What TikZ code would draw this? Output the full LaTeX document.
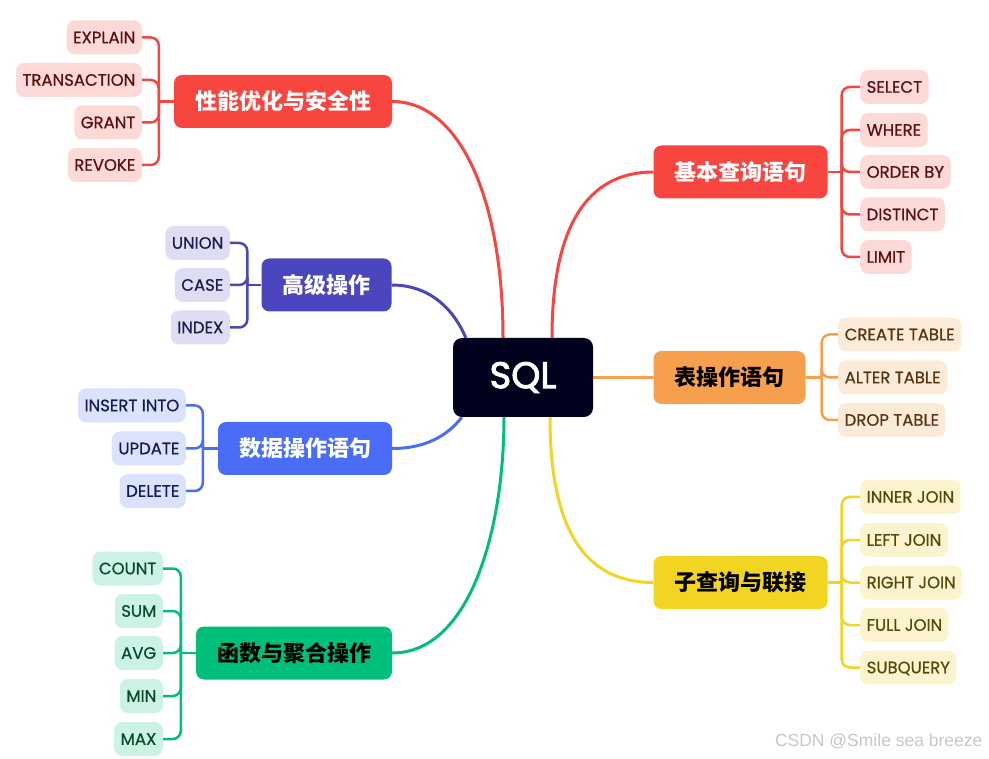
\documentclass[tikz,border=0pt]{standalone}
\usepackage{fontspec}
\setmainfont{Poppins}[FakeBold=0.6]
\newfontfamily\sqlfont{Poppins}[FakeBold=2.5]
\newfontfamily\cjk{Noto Sans CJK SC}
\newfontfamily\wmfont{Liberation Sans}
\usetikzlibrary{backgrounds}
\definecolor{cRed}{HTML}{F8453F}
\definecolor{cRedL}{HTML}{FDD9D7}
\definecolor{cRedT}{HTML}{5C0F0F}
\definecolor{cInd}{HTML}{4B46BE}
\definecolor{cIndL}{HTML}{DEDDF3}
\definecolor{cIndT}{HTML}{1E1C4F}
\definecolor{cBlue}{HTML}{4A6CF7}
\definecolor{cBlueL}{HTML}{DAE2FD}
\definecolor{cBlueT}{HTML}{0E1D5A}
\definecolor{cGreen}{HTML}{00BF7A}
\definecolor{cGreenL}{HTML}{CCF2E3}
\definecolor{cGreenT}{HTML}{064A30}
\definecolor{cOr}{HTML}{F6A04D}
\definecolor{cOrL}{HTML}{FDEBD9}
\definecolor{cOrT}{HTML}{5A3410}
\definecolor{cYel}{HTML}{F2D422}
\definecolor{cYelL}{HTML}{FCF4CF}
\definecolor{cYelT}{HTML}{564808}
\definecolor{cSql}{HTML}{02021E}
\tikzset{
  mainbox/.style={rounded corners=8pt, minimum height=53pt, inner xsep=21pt, inner ysep=0pt,
    font=\cjk\bfseries\fontsize{22}{22}\selectfont, text height=19pt, text depth=2.2pt},
  leafbox/.style={rounded corners=8pt, minimum height=34pt, inner xsep=6.5pt, inner ysep=0pt,
    font=\fontsize{16.5}{16.5}\selectfont, text height=11.5pt, text depth=0pt},
  conn/.style={line width=3pt},
  brk/.style={line width=2.5pt, rounded corners=8pt},
}
\begin{document}
\begin{tikzpicture}[x=1pt,y=-1pt]
\useasboundingbox (0,0) rectangle (989,759);
% central
\node[fill=cSql, text=white, rounded corners=9pt, minimum width=140pt, minimum height=79pt,
  font=\sqlfont\fontsize{37}{37}\selectfont] (sql) at (523,377.5) {SQL};
% main branches
\node[mainbox, fill=cRed, text=white] (perf) at (283,101.5) {性能优化与安全性};
\node[mainbox, fill=cInd, text=white] (adv) at (326.5,285) {高级操作};
\node[mainbox, fill=cBlue, text=white] (dml) at (305,448.5) {数据操作语句};
\node[mainbox, fill=cGreen, text=black] (func) at (294,653) {函数与聚合操作};
\node[mainbox, fill=cRed, text=white] (basic) at (740.5,172) {基本查询语句};
\node[mainbox, fill=cOr, text=black] (tbl) at (729.5,377.5) {表操作语句};
\node[mainbox, fill=cYel, text=black] (join) at (740.5,582.5) {子查询与联接};
% leaves left
\begin{scope}[every node/.append style={leafbox, anchor=east}]
\node[fill=cRedL, text=cRedT] (p1) at (142,37.5) {EXPLAIN};
\node[fill=cRedL, text=cRedT] (p2) at (142,80) {TRANSACTION};
\node[fill=cRedL, text=cRedT] (p3) at (142,122.5) {GRANT};
\node[fill=cRedL, text=cRedT] (p4) at (142,165) {REVOKE};
\node[fill=cIndL, text=cIndT] (a1) at (230,243) {UNION};
\node[fill=cIndL, text=cIndT] (a2) at (230,285) {CASE};
\node[fill=cIndL, text=cIndT] (a3) at (230,327.5) {INDEX};
\node[fill=cBlueL, text=cBlueT] (d1) at (186,405.5) {INSERT INTO};
\node[fill=cBlueL, text=cBlueT] (d2) at (186,448.5) {UPDATE};
\node[fill=cBlueL, text=cBlueT] (d3) at (186,491) {DELETE};
\node[fill=cGreenL, text=cGreenT] (f1) at (163,568.5) {COUNT};
\node[fill=cGreenL, text=cGreenT] (f2) at (163,611) {SUM};
\node[fill=cGreenL, text=cGreenT] (f3) at (163,653) {AVG};
\node[fill=cGreenL, text=cGreenT] (f4) at (163,696) {MIN};
\node[fill=cGreenL, text=cGreenT] (f5) at (163,739) {MAX};
\end{scope}
% leaves right
\begin{scope}[every node/.append style={leafbox, anchor=west}]
\node[fill=cRedL, text=cRedT] (b1) at (860,87) {SELECT};
\node[fill=cRedL, text=cRedT] (b2) at (860,130) {WHERE};
\node[fill=cRedL, text=cRedT] (b3) at (860,172) {ORDER BY};
\node[fill=cRedL, text=cRedT] (b4) at (860,214.5) {DISTINCT};
\node[fill=cRedL, text=cRedT] (b5) at (860,257) {LIMIT};
\node[fill=cOrL, text=cOrT] (t1) at (838,334.5) {CREATE TABLE};
\node[fill=cOrL, text=cOrT] (t2) at (838,377.5) {ALTER TABLE};
\node[fill=cOrL, text=cOrT] (t3) at (838,420) {DROP TABLE};
\node[fill=cYelL, text=cYelT] (j1) at (860,497) {INNER JOIN};
\node[fill=cYelL, text=cYelT] (j2) at (860,540) {LEFT JOIN};
\node[fill=cYelL, text=cYelT] (j3) at (860,582.5) {RIGHT JOIN};
\node[fill=cYelL, text=cYelT] (j4) at (860,625) {FULL JOIN};
\node[fill=cYelL, text=cYelT] (j5) at (860,667.5) {SUBQUERY};
\end{scope}
\node[anchor=east, text=black!22, font=\wmfont\fontsize{17.5}{17.5}\selectfont] (wm) at (986,741) {CSDN @Smile sea breeze};
\begin{pgfonlayer}{background}
% main connectors
\draw[conn, cRed] ([xshift=-20pt]sql.north) .. controls ([xshift=-20pt]sql.north |- 0,200) and (460,101.5) .. (perf.east);
\draw[conn, cInd] ([xshift=13pt]sql.north west) .. controls (455,312) and (432,285) .. (adv.east);
\draw[conn, cBlue] ([xshift=9pt]sql.south west) .. controls (452,430) and (432,448.5) .. (dml.east);
\draw[conn, cGreen] ([xshift=-19pt]sql.south) .. controls (504,530) and (470,653) .. (func.east);
\draw[conn, cRed] ([xshift=29pt]sql.north) .. controls (552,230) and (585,172) .. (basic.west);
\draw[conn, cOr] (sql.east) -- (tbl.west);
\draw[conn, cYel] ([xshift=27pt]sql.south) .. controls (550,530) and (585,582.5) .. (join.west);
% brackets left
\foreach \c in {p1,p2,p3,p4} \draw[brk, cRed] (\c.east) -| ([xshift=-15pt]perf.west);
\draw[brk, cRed] ([xshift=-15pt]perf.west) -- (perf.west);
\foreach \c in {a1,a2,a3} \draw[brk, cInd] (\c.east) -| ([xshift=-14pt]adv.west);
\draw[brk, cInd] ([xshift=-14pt]adv.west) -- (adv.west);
\foreach \c in {d1,d2,d3} \draw[brk, cBlue] (\c.east) -| ([xshift=-15pt]dml.west);
\draw[brk, cBlue] ([xshift=-15pt]dml.west) -- (dml.west);
\foreach \c in {f1,f2,f3,f4,f5} \draw[brk, cGreen] (\c.east) -| ([xshift=-15pt]func.west);
\draw[brk, cGreen] ([xshift=-15pt]func.west) -- (func.west);
% brackets right
\foreach \c in {b1,b2,b3,b4,b5} \draw[brk, cRed] (\c.west) -| ([xshift=14pt]basic.east);
\draw[brk, cRed] ([xshift=14pt]basic.east) -- (basic.east);
\foreach \c in {t1,t2,t3} \draw[brk, cOr] (\c.west) -| ([xshift=16pt]tbl.east);
\draw[brk, cOr] ([xshift=16pt]tbl.east) -- (tbl.east);
\foreach \c in {j1,j2,j3,j4,j5} \draw[brk, cYel] (\c.west) -| ([xshift=14pt]join.east);
\draw[brk, cYel] ([xshift=14pt]join.east) -- (join.east);
\end{pgfonlayer}
\end{tikzpicture}
\end{document}
